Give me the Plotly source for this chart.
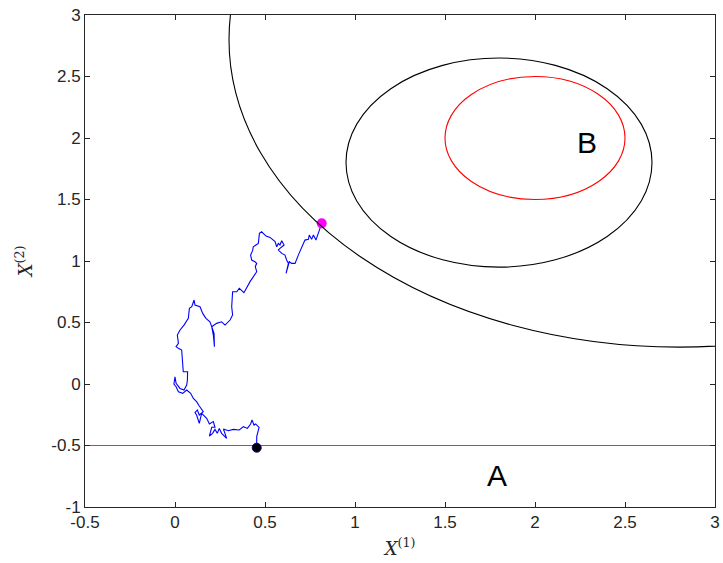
import plotly.graph_objects as go

# Random-walk path (data units)
path_x = [0.454, 0.454, 0.467, 0.448, 0.439, 0.428, 0.420, 0.402, 0.380, 0.357,
          0.324, 0.296, 0.269, 0.287, 0.259, 0.246, 0.235, 0.222, 0.209, 0.191,
          0.204, 0.222, 0.213, 0.191, 0.176, 0.148, 0.135, 0.120, 0.111, 0.124,
          0.135, 0.157, 0.135, 0.120, 0.102, 0.087, 0.065, 0.043, 0.019, 0.006,
          -0.006, 0.000, 0.006, 0.028, 0.050, 0.065, 0.069, 0.070, 0.046, 0.043,
          0.037, 0.019, 0.006, 0.019, 0.013, 0.028, 0.050, 0.074, 0.080, 0.093,
          0.106, 0.111, 0.139, 0.154, 0.172, 0.194, 0.204, 0.213, 0.219, 0.217,
          0.204, 0.231, 0.259, 0.278, 0.306, 0.320, 0.315, 0.320, 0.343, 0.357,
          0.370, 0.383, 0.417, 0.435, 0.454, 0.446, 0.454, 0.444, 0.426, 0.420,
          0.431, 0.435, 0.463, 0.469, 0.481, 0.506, 0.528, 0.556, 0.565, 0.574,
          0.583, 0.593, 0.606, 0.583, 0.574, 0.593, 0.611, 0.620, 0.630, 0.617,
          0.635, 0.648, 0.667, 0.685, 0.704, 0.722, 0.741, 0.746, 0.759, 0.769,
          0.783, 0.796, 0.815]
path_y = [-0.518, -0.428, -0.352, -0.325, -0.334, -0.293, -0.325, -0.361, -0.347, -0.374,
          -0.369, -0.380, -0.366, -0.442, -0.401, -0.361, -0.401, -0.369, -0.401, -0.423,
          -0.352, -0.352, -0.306, -0.325, -0.279, -0.239, -0.320, -0.252, -0.233, -0.211,
          -0.252, -0.225, -0.179, -0.144, -0.117, -0.076, -0.049, -0.076, -0.063, -0.022,
          0.000, 0.059, 0.005, -0.036, -0.049, -0.008, 0.032, 0.100, 0.100, 0.195,
          0.276, 0.290, 0.303, 0.330, 0.398, 0.439, 0.479, 0.534, 0.615, 0.628,
          0.683, 0.642, 0.628, 0.574, 0.534, 0.506, 0.466, 0.398, 0.303, 0.412,
          0.466, 0.493, 0.506, 0.479, 0.520, 0.561, 0.628, 0.750, 0.750, 0.777,
          0.758, 0.742, 0.832, 0.872, 0.913, 0.954, 0.981, 0.994, 1.008, 1.048,
          1.084, 1.116, 1.143, 1.225, 1.238, 1.203, 1.192, 1.157, 1.116, 1.143,
          1.130, 1.165, 1.130, 1.103, 1.089, 1.062, 1.048, 1.008, 0.981, 0.899,
          0.994, 0.981, 0.981, 1.048, 1.116, 1.170, 1.176, 1.211, 1.176, 1.211,
          1.170, 1.225, 1.306]

# Circles (centre x, centre y, radius, colour)
circle_cx = [2.0, 1.8, 2.8]
circle_cy = [2.0, 1.8, 2.8]
circle_r = [0.5, 0.85, 2.5]
circle_colors = ["#ff0000", "#000000", "#000000"]

barrier_y = -0.5
labels_text = ["A", "B"]
labels_x = [1.79, 2.29]
labels_y = [-0.74, 1.96]

x_ticks = [-0.5, 0, 0.5, 1, 1.5, 2, 2.5, 3]
x_ticktext = ["-0.5", "0", "0.5", "1", "1.5", "2", "2.5", "3"]
y_ticks = [-1, -0.5, 0, 0.5, 1, 1.5, 2, 2.5, 3]
y_ticktext = ["-1", "-0.5", "0", "0.5", "1", "1.5", "2", "2.5", "3"]

fig = go.Figure()

fig.add_trace(go.Scatter(x=[-0.5, 3], y=[barrier_y, barrier_y], mode="lines",
                         line=dict(color="#ff00ff", width=1), hoverinfo="skip"))
fig.add_trace(go.Scatter(x=path_x, y=path_y, mode="lines",
                         line=dict(color="#0000ff", width=1.1)))
fig.add_trace(go.Scatter(x=[path_x[0]], y=[path_y[0]], mode="markers",
                         marker=dict(color="#000000", size=9,
                                     line=dict(color="#000080", width=1))))
fig.add_trace(go.Scatter(x=[path_x[-1]], y=[path_y[-1]], mode="markers",
                         marker=dict(color="#ff00ff", size=10)))

for cx, cy, r, col in zip(circle_cx, circle_cy, circle_r, circle_colors):
    fig.add_shape(type="circle", xref="x", yref="y",
                  x0=cx - r, x1=cx + r, y0=cy - r, y1=cy + r,
                  line=dict(color=col, width=1.1))

for t, lx, ly in zip(labels_text, labels_x, labels_y):
    fig.add_annotation(x=lx, y=ly, text=t, showarrow=False,
                       font=dict(family="Liberation Sans, Arial", size=30, color="#000000"))

axis_common = dict(showgrid=False, zeroline=False, showline=True, mirror="ticks",
                   linecolor="#262626", linewidth=1, ticks="inside", ticklen=5,
                   tickcolor="#262626", automargin=False, ticklabeloverflow="allow",
                   tickfont=dict(family="Liberation Sans, Arial", size=17, color="#262626"))

fig.update_layout(
    width=723, height=563,
    margin=dict(l=85, r=8, t=15, b=56),
    paper_bgcolor="white", plot_bgcolor="white",
    showlegend=False,
    xaxis=dict(range=[-0.5, 3], tickvals=x_ticks, ticktext=x_ticktext,
               title=dict(text="<i>X</i><sup>(1)</sup>", standoff=10,
                          font=dict(family="DejaVu Serif, Liberation Serif", size=18, color="#262626")),
               **axis_common),
    yaxis=dict(range=[-1, 3], tickvals=y_ticks, ticktext=y_ticktext,
               title=dict(text="<i>X</i><sup>(2)</sup>", standoff=14,
                          font=dict(family="DejaVu Serif, Liberation Serif", size=18, color="#262626")),
               **axis_common),
)

# Remove the default page margin so the figure fills the window exactly.
fig.write_html("out.html", config={"displayModeBar": False},
               post_script="document.body.style.margin='0';document.body.style.overflow='hidden';")
